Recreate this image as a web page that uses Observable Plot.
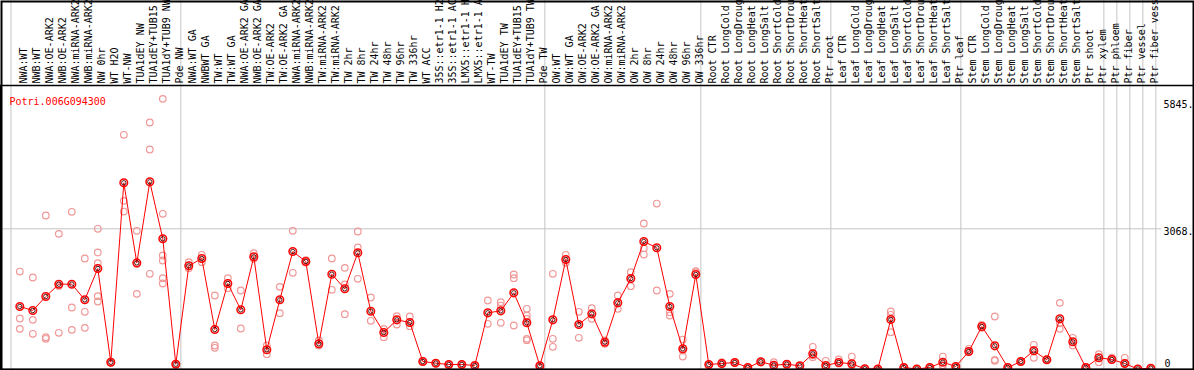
<!DOCTYPE html>
<html>
<head>
<meta charset="utf-8">
<script src="https://cdn.jsdelivr.net/npm/d3@7"></script>
<script src="https://cdn.jsdelivr.net/npm/@observablehq/plot@0.6"></script>
<style>
  html, body { margin: 0; padding: 0; background: white; }
</style>
</head>
<body>
<div id="chart"></div>
<script>
const title = "Potri.006G094300";

const labels = [
  "NWA:WT","NWB:WT","NWA:OE-ARK2","NWB:OE-ARK2","NWA:miRNA-ARK2","NWB:miRNA-ARK2","NW 0hr","WT H2O","WT-NW",
  "TUA1dEY NW","TUA1dEY+TUB15 NW","TUA1dY+TUB9 NW","Pde NW",
  "NWA:WT GA","NWBWT GA","TW:WT","TW:WT GA","NWA:OE-ARK2 GA","NWB:OE-ARK2 GA","TW:OE-ARK2","TW:OE-ARK2 GA",
  "NWA:miRNA-ARK2 GA","NWB:miRNA-ARK2 GA","TW:miRNA-ARK2","TW:miRNA-ARK2 GA",
  "TW 2hr","TW 8hr","TW 24hr","TW 48hr","TW 96hr","TW 336hr","WT ACC",
  "35S::etr1-1 H2O","35S::etr1-1 ACC","LMX5::etr1-1 H2O","LMX5::etr1-1 ACC",
  "WT-TW","TUA1dEY TW","TUA1dEY+TUB15 TW","TUA1dY+TUB9 TW","Pde TW",
  "OW:WT","OW:WT GA","OW:OE-ARK2","OW:OE-ARK2 GA","OW:miRNA-ARK2","OW:miRNA-ARK2 GA",
  "OW 2hr","OW 8hr","OW 24hr","OW 48hr","OW 96hr","OW 336hr",
  "Root CTR","Root LongCold","Root LongDrought","Root LongHeat","Root LongSalt",
  "Root ShortCold","Root ShortDrought","Root ShortHeat","Root ShortSalt","Ptr root",
  "Leaf CTR","Leaf LongCold","Leaf LongDrought","Leaf LongHeat","Leaf LongSalt",
  "Leaf ShortCold","Leaf ShortDrought","Leaf ShortHeat","Leaf ShortSalt","Ptr leaf",
  "Stem CTR","Stem LongCold","Stem LongDrought","Stem LongHeat","Stem LongSalt",
  "Stem ShortCold","Stem ShortDrought","Stem ShortHeat","Stem ShortSalt","Ptr shoot",
  "Ptr xylem","Ptr phloem","Ptr fiber","Ptr vessel","Ptr fiber vessel"
];

const means = [
  1368,1280,1586,1856,1856,1514,2199,149,4074,2323,4096,2849,105,
  2258,2418,864,1871,1295,2455,420,1514,2571,2352,551,2074,1755,2543,1265,799,1076,1018,164,
  127,98,98,77,1229,1273,1667,1011,70,
  1076,2396,974,1207,587,1448,1980,2790,2652,1368,442,2068,
  98,120,142,33,157,83,105,70,332,77,
  142,113,4,0,1083,33,0,33,149,55,
  383,930,507,33,164,398,201,1098,595,33,
  245,208,120,0,18
];

const replicates = [
  [2133,1105,879],[2002,1076,770],[3359,696,661],[2958,792,1818],[3440,1346,857],[2418,1252,901],
  [3068,2549,2315,1593,1477],[160,140,150],[5125,3680,3446],[3023,1645,2300],[5394,4803,2083],
  [5912,3396,2484,2374,1987,1871],[110,100],
  [2338,2206],[2499,2338],[1608,514,464],[1987,1768],[1718,886],[2534,2411],[514,324],[1798,1221],
  [3023,2105],[2380,2330],[624,514],[2418,1733],[2214,1849,1199],[3009,2659,1974],[1565,1055],
  [879,696],[1156,974],[1149,937],[170,160],
  [130,125],[100,95],[100,95],[80,75],[1499,989],[1462,1389,1011],[2068,1987,952],
  [1317,1171,1098,661,630],[75,65],
  [2083,661,486],[2499,2323],[1252,683],[1331,1098],[624,551],[1608,1317],[2119,1812],
  [3184,2644,2505],[3621,1718],[1645,1243,1171],[645,405,273],[2140,2119],
  [100,90],[150,110],[150,135],[40,25],[160,150],[150,80],[110,100],[75,65],[486,258,300],[179,60],
  [208,120],[273,80],[10,0],[0,0],[1258,1186,805],[40,30],[0,0],[40,30],[273,80,77],[60,50],
  [442,380],[967,900],[1149,179,200],[40,30],[170,160],[530,245,420],[210,195],[1448,879,1000],
  [683,514],[40,30],
  [324,149],[250,200],[245,120],[10,0],[25,15]
];

// indices of the last sample of each group (a grey separator follows each)
const groupEnds = [12, 40, 52, 62, 72, 83, 84, 85, 86, 87];
const tickValues = [5845, 3068, 0];
const tickLabels = ["5845.", "3068.", "0"];
const gridValues = [3068];

const meanData = means.map((v, i) => ({i, v}));
const repData = replicates.flatMap((arr, i) => arr.map(v => ({i, v})));
const separators = [-0.68, ...groupEnds.map(e => e + 0.39)];

const chart = Plot.plot({
  width: 1194,
  height: 370,
  marginTop: 85,
  marginBottom: 1,
  marginLeft: 0,
  marginRight: 0,
  x: {type: "linear", domain: [-1.485, 90.362], axis: null},
  y: {domain: [-10.9, 6204], axis: null},
  style: {fontFamily: "'DejaVu Sans Mono', monospace", fontSize: "10px", background: "white"},
  marks: [
    Plot.ruleX(separators, {x: d => d, stroke: "#c4c4c4", strokeWidth: 1, insetTop: -85}),
    Plot.ruleY(gridValues, {y: d => d, stroke: "#c4c4c4", strokeWidth: 1, insetRight: 33}),
    Plot.text(labels, {
      x: (d, i) => i, text: d => d, frameAnchor: "top", rotate: -90,
      textAnchor: "start", dy: -2, fill: "black"
    }),
    Plot.text([title], {text: d => d, frameAnchor: "top-left", dx: 9, dy: 12, textAnchor: "start", fill: "red"}),
    Plot.text(tickValues.slice(0, 2), {
      y: d => d, text: (d, i) => tickLabels[i], frameAnchor: "right", dx: -31,
      textAnchor: "start", lineAnchor: "top", dy: -1, fill: "black"
    }),
    Plot.text(tickValues.slice(2), {
      y: d => d, text: (d, i) => tickLabels[2 + i], frameAnchor: "right", dx: -30,
      textAnchor: "start", lineAnchor: "bottom", dy: -2, fill: "black"
    }),
    Plot.dot(repData, {x: "i", y: "v", r: 3.3, stroke: "#f09898", strokeWidth: 1.2, fill: "none", clip: true}),
    Plot.line(meanData, {x: "i", y: "v", stroke: "red", strokeWidth: 1}),
    Plot.dot(meanData, {x: "i", y: "v", r: 3.8, stroke: "red", strokeWidth: 1.5, fill: "none", clip: true}),
    Plot.dot(meanData, {x: "i", y: "v", r: 2.2, stroke: "#400000", strokeWidth: 0.9, fill: "none", clip: true}),
    Plot.frame({stroke: "black", strokeWidth: 1.5}),
    Plot.frame({stroke: "black", strokeWidth: 2, insetTop: -84, insetLeft: 1, insetRight: 1})
  ]
});
document.getElementById("chart").appendChild(chart);
</script>
</body>
</html>
